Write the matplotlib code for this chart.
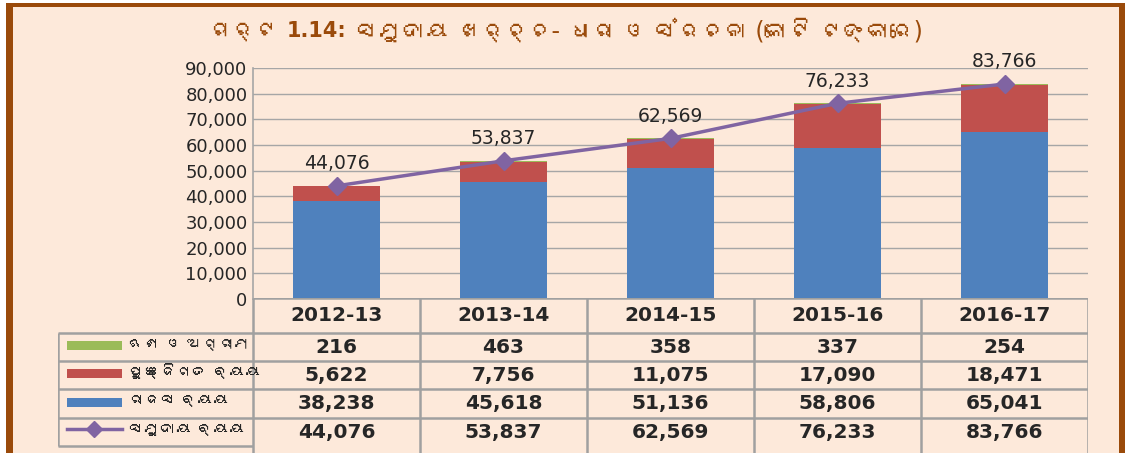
import numpy as np
import matplotlib
matplotlib.use("Agg")
import matplotlib.pyplot as plt
from matplotlib import font_manager as fm, ft2font
from matplotlib.patches import Rectangle

# ============================
# Data
# ============================
years = ["2012-13", "2013-14", "2014-15", "2015-16", "2016-17"]
loans = [216, 463, 358, 337, 254]              # ଋଣ ଓ ଅଗ୍ରୀମ
capital = [5622, 7756, 11075, 17090, 18471]    # ପୁଞ୍ଜିଗତ ବ୍ୟୟ
revenue = [38238, 45618, 51136, 58806, 65041]  # ରାଜସ ବ୍ୟୟ
total = [44076, 53837, 62569, 76233, 83766]    # ସମୁଦାୟ ବ୍ୟୟ
series_names = ["ଋଣ ଓ ଅଗ୍ରୀମ", "ପୁଞ୍ଜିଗତ ବ୍ୟୟ", "ରାଜସ ବ୍ୟୟ", "ସମୁଦାୟ ବ୍ୟୟ"]
title_parts = ["ଚାର୍ଟ", "1.14:", "ସମୁଦାୟ ଖର୍ଚ୍ଚ- ଧାରା ଓ ସଂରଚନା (କୋଟି ଟଙ୍କାରେ)"]

# look for a font with Odia glyphs; DejaVu first so digits stay DejaVu
odia = None
for f in fm.fontManager.ttflist:
    try:
        if 0x0B1A in ft2font.FT2Font(f.fname).get_charmap():
            odia = f.name
            break
    except Exception:
        pass
fams = ["DejaVu Sans", odia] if odia else ["DejaVu Sans"]
plt.rcParams["font.family"] = fams

BLUE, RED, GREEN, PURPLE = "#4F81BD", "#C0504D", "#9BBB59", "#8064A2"
PEACH, BROWN, GRID = "#FDE9DA", "#9A4A0A", "#A6A6A6"
TXT = "#262626"
W, H = 1125, 453

fig = plt.figure(figsize=(W / 100, H / 100), dpi=100)
fig.patch.set_facecolor("white")


def fx(x):
    return x / W


def fy(y):
    return 1 - y / H


# frame
fig.add_artist(Rectangle((fx(6), 0), fx(1125) - fx(6), fy(3), transform=fig.transFigure,
                         facecolor=BROWN, edgecolor="none", zorder=0))
fig.add_artist(Rectangle((fx(13), 0), fx(1119) - fx(13), fy(7), transform=fig.transFigure,
                         facecolor=PEACH, edgecolor="none", zorder=0))

# title in three pieces (number is bold), centred afterwards
renderer = fig.canvas.get_renderer()
pieces = []
for i, part in enumerate(title_parts):
    t = fig.text(0, fy(31), part, ha="left", va="center",
                 fontsize=15 if i == 1 else 17, color=BROWN,
                 fontweight="bold" if i == 1 else "normal", family=fams)
    pieces.append(t)
widths = [t.get_window_extent(renderer).width for t in pieces]
gap = 9
total_w = sum(widths) + gap * (len(widths) - 1)
cur = 565 - total_w / 2
for t, w in zip(pieces, widths):
    t.set_x(fx(cur))
    cur += w + gap

# ============================
# Main chart
# ============================
x = np.arange(len(years))
ax = fig.add_axes([fx(253), fy(299), fx(1088) - fx(253), fy(68) - fy(299)])
ax.set_facecolor("none")
ax.set_xlim(-0.5, 4.5)
ax.set_ylim(0, 90000)
ax.set_yticks(np.arange(0, 90001, 10000))
ax.set_yticklabels([f"{v:,}" for v in range(0, 90001, 10000)], fontsize=13, color=TXT)
ax.set_xticks([])
ax.tick_params(axis="y", length=0, pad=4)
for s in ["top", "right", "bottom"]:
    ax.spines[s].set_visible(False)
ax.spines["left"].set_color(GRID)
ax.spines["left"].set_linewidth(1.2)
ax.yaxis.grid(True, color=GRID, linewidth=1)
ax.set_axisbelow(True)

bw = 0.515
rev = np.array(revenue)
cap = np.array(capital)
ax.bar(x, rev, width=bw, color=BLUE, zorder=2)
ax.bar(x, cap, width=bw, bottom=rev, color=RED, zorder=2)
ax.bar(x, loans, width=bw, bottom=rev + cap, color=GREEN, zorder=2)
ax.plot(x, total, color=PURPLE, lw=2.5, marker="D", ms=9, zorder=3)
for xi, v in zip(x, total):
    ax.annotate(f"{v:,}", (xi, v), xytext=(0, 16), textcoords="offset points",
                ha="center", va="center", fontsize=13.5, color=TXT)

# ============================
# Data table below (x in category units, y in pixels)
# ============================
tax = fig.add_axes([fx(58), 0, fx(1088) - fx(58), fy(298)])
tax.set_axis_off()
leg_w = (253 - 58) / 167
lx = -0.5 - leg_w
tax.set_xlim(lx, 4.5)
tax.set_ylim(H, 298)
edges = [298, 333, 361, 389, 418, 446]
mids = [(a + b) / 2 for a, b in zip(edges[:-1], edges[1:])]
lc = dict(color="#A0A0A0", lw=1.8, solid_capstyle="butt")

tax.plot([-0.5, 4.5], [edges[0], edges[0]], **lc)
for e in edges[1:5]:
    tax.plot([lx, 4.5], [e, e], **lc)
tax.plot([lx, -0.5], [edges[5], edges[5]], **lc)
tax.plot([lx, lx], [edges[1], edges[5]], **lc)
for c in np.arange(-0.5, 4.6, 1):
    tax.plot([c, c], [edges[0], H], **lc)
tax.plot([4.52, 4.52], [302, 448], color="#A0A0A0", lw=1)

for i, yr in enumerate(years):
    tax.text(i, mids[0], yr, ha="center", va="center", fontsize=14.5, fontweight="bold",
             color=TXT)
rows = [loans, capital, revenue, total]
for r, vals in enumerate(rows, start=1):
    for i, v in enumerate(vals):
        tax.text(i, mids[r], f"{v:,}", ha="center", va="center", fontsize=14.5,
                 fontweight="bold", color=TXT)

# legend keys inside the first column
k0 = -0.5 - (253 - 67) / 167
k1 = -0.5 - (253 - 122) / 167
key_cols = [GREEN, RED, BLUE]
for r, col in enumerate(key_cols, start=1):
    tax.add_patch(Rectangle((k0, mids[r] - 6), k1 - k0, 9, facecolor=col, edgecolor="none"))
tax.plot([k0, k1], [mids[4] - 3, mids[4] - 3], color=PURPLE, lw=2.5)
tax.plot([(k0 + k1) / 2], [mids[4] - 3], marker="D", ms=8, color=PURPLE)
for r, name in enumerate(series_names, start=1):
    tax.text(-0.5 - (253 - 128) / 167, mids[r] - 3, name, ha="left", va="center",
             fontsize=11.5, color=TXT)

fig.savefig("out.png", dpi=100, facecolor=fig.get_facecolor())
